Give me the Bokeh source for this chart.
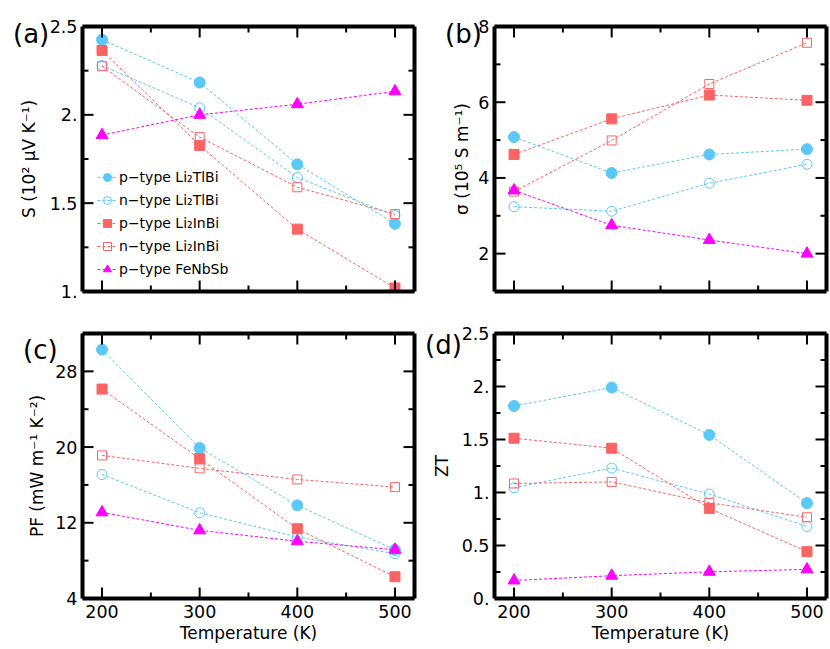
from bokeh.plotting import figure
from bokeh.models import Range1d, FixedTicker, LinearAxis, Legend, LegendItem, Div
from bokeh.layouts import column, row
from bokeh.embed import file_html
from bokeh.resources import INLINE

# ---------------- data ----------------
temperature = [200, 300, 400, 500]
x_ticks = [200, 300, 400, 500]
x_minor_ticks = [250, 350, 450]
x_tick_labels = ["200", "300", "400", "500"]

series_names = ["p\u2212type Li\u2082TlBi", "n\u2212type Li\u2082TlBi",
                "p\u2212type Li\u2082InBi", "n\u2212type Li\u2082InBi",
                "p\u2212type FeNbSb"]
panel_tags = ["(a)", "(b)", "(c)", "(d)"]

S_p_Li2TlBi = [2.425, 2.183, 1.72, 1.383]
S_n_Li2TlBi = [2.279, 2.04, 1.645, 1.43]
S_p_Li2InBi = [2.364, 1.827, 1.353, 1.02]
S_n_Li2InBi = [2.275, 1.874, 1.59, 1.438]
S_p_FeNbSb = [1.885, 2.0, 2.06, 2.133]

sigma_p_Li2TlBi = [5.08, 4.13, 4.62, 4.76]
sigma_n_Li2TlBi = [3.24, 3.12, 3.86, 4.36]
sigma_p_Li2InBi = [4.62, 5.56, 6.19, 6.05]
sigma_n_Li2InBi = [3.64, 4.99, 6.48, 7.57]
sigma_p_FeNbSb = [3.67, 2.75, 2.36, 2.0]

PF_p_Li2TlBi = [30.3, 19.9, 13.84, 9.15]
PF_n_Li2TlBi = [17.1, 13.06, 10.5, 8.73]
PF_p_Li2InBi = [26.13, 18.77, 11.37, 6.3]
PF_n_Li2InBi = [19.12, 17.75, 16.58, 15.77]
PF_p_FeNbSb = [13.1, 11.2, 10.05, 9.15]

ZT_p_Li2TlBi = [1.816, 1.99, 1.543, 0.90]
ZT_n_Li2TlBi = [1.044, 1.23, 0.985, 0.68]
ZT_p_Li2InBi = [1.512, 1.418, 0.85, 0.442]
ZT_n_Li2InBi = [1.085, 1.10, 0.903, 0.766]
ZT_p_FeNbSb = [0.17, 0.215, 0.252, 0.275]

S_ticks = [1.0, 1.5, 2.0, 2.5]
S_minor = [1.25, 1.75, 2.25]
S_tick_labels = ["1.", "1.5", "2.", "2.5"]
sigma_ticks = [2, 4, 6, 8]
sigma_minor = [3, 5, 7]
sigma_tick_labels = ["2", "4", "6", "8"]
PF_ticks = [4, 12, 20, 28]
PF_minor = [8, 16, 24]
PF_tick_labels = ["4", "12", "20", "28"]
ZT_ticks = [0.0, 0.5, 1.0, 1.5, 2.0, 2.5]
ZT_minor = [0.25, 0.75, 1.25, 1.75, 2.25]
ZT_tick_labels = ["0.", "0.5", "1.", "1.5", "2.", "2.5"]

# ---------------- styles ----------------
FONT = "DejaVu Sans"
BLUE = "#5BC8F8"
RED = "#FA6464"
MAG = "#FF00FF"
styles = [
    dict(marker="circle", color=BLUE, filled=True, size=11),
    dict(marker="circle", color=BLUE, filled=False, size=10),
    dict(marker="square", color=RED, filled=True, size=10),
    dict(marker="square", color=RED, filled=False, size=9),
    dict(marker="triangle", color=MAG, filled=True, size=12),
]
X_LO, X_HI = 180, 520
FW, FH = 332, 265          # frame size in px
MAJOR_LEN, MINOR_LEN = 11, 6


def style_axis(ax):
    ax.axis_line_color = None
    ax.major_tick_in = 0
    ax.major_tick_out = 0
    ax.minor_tick_in = 0
    ax.minor_tick_out = 0
    ax.major_label_text_font = FONT
    ax.major_label_text_font_size = "17.5px"
    ax.major_label_text_color = "black"
    ax.axis_label_text_font = FONT
    ax.axis_label_text_font_size = "17px"
    ax.axis_label_text_font_style = "normal"
    ax.axis_label_text_color = "black"


def hide_labels(ax, ticks):
    ax.major_label_overrides = {float(t): "" for t in ticks}
    ax.major_label_text_font_size = "0px"
    ax.major_label_standoff = 0


def frame_and_ticks(p, yr, yticks, yminor):
    # frame box (half of the stroke is clipped at the frame edge) and
    # tick marks pointing inwards from all four edges
    p.segment(x0=[X_LO, X_HI, X_LO, X_LO], y0=[yr[0], yr[0], yr[0], yr[1]],
              x1=[X_LO, X_HI, X_HI, X_HI], y1=[yr[1], yr[1], yr[0], yr[1]],
              line_color="black", line_width=4, level="overlay")
    dx = (X_HI - X_LO) / FW
    dy = (yr[1] - yr[0]) / FH
    for ticks, ln in ((x_ticks, MAJOR_LEN), (x_minor_ticks, MINOR_LEN)):
        n = len(ticks)
        p.segment(x0=ticks, y0=[yr[0]] * n, x1=ticks, y1=[yr[0] + ln * dy] * n,
                  line_color="black", line_width=2, level="overlay")
        p.segment(x0=ticks, y0=[yr[1]] * n, x1=ticks, y1=[yr[1] - ln * dy] * n,
                  line_color="black", line_width=2, level="overlay")
    for ticks, ln in ((yticks, MAJOR_LEN), (yminor, MINOR_LEN)):
        n = len(ticks)
        p.segment(x0=[X_LO] * n, y0=ticks, x1=[X_LO + ln * dx] * n, y1=ticks,
                  line_color="black", line_width=2, level="overlay")
        p.segment(x0=[X_HI] * n, y0=ticks, x1=[X_HI - ln * dx] * n, y1=ticks,
                  line_color="black", line_width=2, level="overlay")


def make_panel(ys, yrange, yticks, yminor, ylabels, ylabel, ylabel_standoff,
               show_x, borders, with_legend=False):
    p = figure(frame_width=FW, frame_height=FH,
               x_range=Range1d(X_LO, X_HI), y_range=Range1d(*yrange),
               x_axis_type=None, y_axis_type=None,
               output_backend="svg", toolbar_location=None,
               min_border_left=borders[0], min_border_right=borders[1],
               min_border_top=borders[2], min_border_bottom=borders[3])
    p.outline_line_color = None
    p.background_fill_color = "white"
    p.border_fill_alpha = 0

    xb = LinearAxis(ticker=FixedTicker(ticks=x_ticks, minor_ticks=x_minor_ticks))
    style_axis(xb)
    if show_x:
        xb.major_label_overrides = {float(t): l for t, l in zip(x_ticks, x_tick_labels)}
        xb.major_label_standoff = 6
        xb.axis_label = "Temperature (K)"
        xb.axis_label_standoff = 2
    else:
        hide_labels(xb, x_ticks)
    p.add_layout(xb, "below")

    yl = LinearAxis(ticker=FixedTicker(ticks=yticks, minor_ticks=yminor))
    style_axis(yl)
    yl.major_label_overrides = {float(t): l for t, l in zip(yticks, ylabels)}
    yl.major_label_standoff = 5
    yl.axis_label = ylabel
    yl.axis_label_standoff = ylabel_standoff
    p.add_layout(yl, "left")

    frame_and_ticks(p, yrange, yticks, yminor)

    items = []
    for name, vals, st in zip(series_names, ys, styles):
        lr = p.line(temperature, vals, line_color=st["color"], line_width=1,
                    line_dash="3 2")
        if st["filled"]:
            sr = p.scatter(temperature, vals, marker=st["marker"], size=st["size"],
                           fill_color=st["color"], line_color=st["color"], line_width=1)
        else:
            sr = p.scatter(temperature, vals, marker=st["marker"], size=st["size"],
                           fill_color=None, line_color=st["color"], line_width=1)
        items.append(LegendItem(label=name, renderers=[lr, sr]))

    if with_legend:
        leg = Legend(items=items, location=(15, 12), padding=0, margin=0,
                     spacing=3, glyph_width=20, glyph_height=20, label_height=20,
                     label_standoff=2, label_text_font=FONT,
                     label_text_font_size="14px", label_text_color="black",
                     border_line_color=None, background_fill_alpha=0)
        p.add_layout(leg, "center")
    return p


pa = make_panel([S_p_Li2TlBi, S_n_Li2TlBi, S_p_Li2InBi, S_n_Li2InBi, S_p_FeNbSb],
                (1.0, 2.5), S_ticks, S_minor, S_tick_labels,
                "S (10\u00b2 \u03bcV K\u207b\u00b9)", 8, False,
                (82, 6, 26, 20), with_legend=True)
pb = make_panel([sigma_p_Li2TlBi, sigma_n_Li2TlBi, sigma_p_Li2InBi, sigma_n_Li2InBi, sigma_p_FeNbSb],
                (1.0, 8.0), sigma_ticks, sigma_minor, sigma_tick_labels,
                "\u03c3 (10\u2075 S m\u207b\u00b9)", 3, False,
                (74, 4, 26, 20))
pc = make_panel([PF_p_Li2TlBi, PF_n_Li2TlBi, PF_p_Li2InBi, PF_n_Li2InBi, PF_p_FeNbSb],
                (4.0, 32.0), PF_ticks, PF_minor, PF_tick_labels,
                "PF (mW m\u207b\u00b9 K\u207b\u00b2)", 5, True,
                (82, 6, 22, 45))
pd_ = make_panel([ZT_p_Li2TlBi, ZT_n_Li2TlBi, ZT_p_Li2InBi, ZT_n_Li2InBi, ZT_p_FeNbSb],
                 (0.0, 2.5), ZT_ticks, ZT_minor, ZT_tick_labels,
                 "ZT", 7, True,
                 (74, 4, 22, 45))

# panel tags "(a)".."(d)" placed in the margins, outside the plot frames
tag_pos = [(13, 21), (445, 21), (23, 337), (425, 332)]
tag_html = "".join(
    '<div style="position:absolute;left:%dpx;top:%dpx;font-family:\'DejaVu Sans\';'
    'font-size:26px;line-height:26px;white-space:nowrap;color:black;">%s</div>'
    % (x, y, t) for (x, y), t in zip(tag_pos, panel_tags))
tags = Div(text=tag_html, width=0, height=0, margin=0,
           styles={"position": "relative", "overflow": "visible", "z-index": "10"})

layout = column(tags, row(pa, pb), row(pc, pd_))
open("out.html", "w").write(file_html(layout, INLINE))
